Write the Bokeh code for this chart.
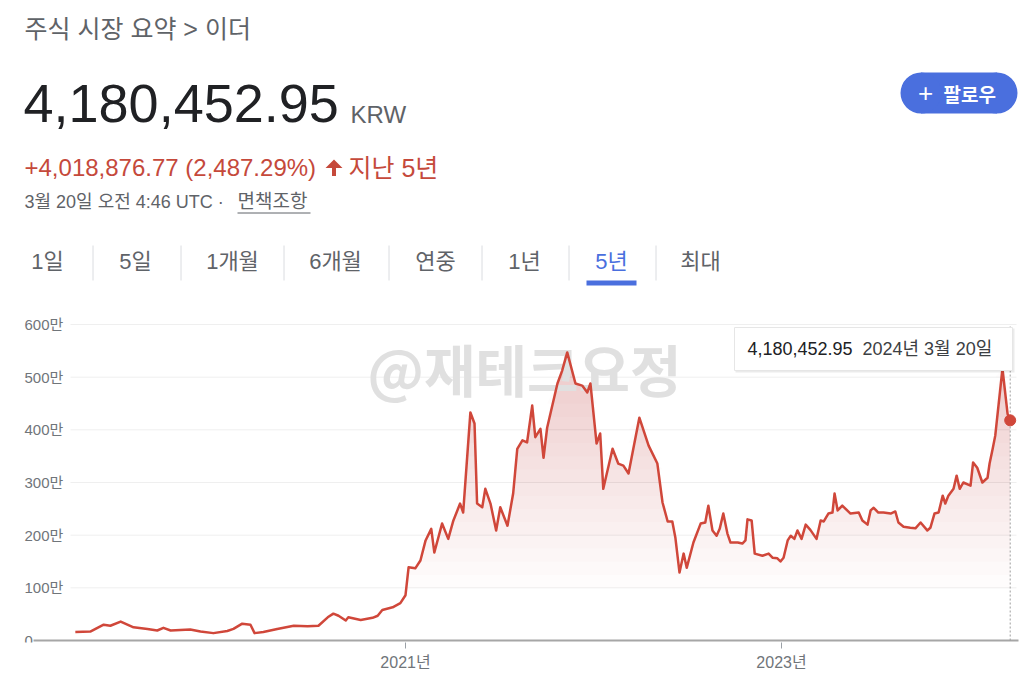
from datetime import datetime, timedelta
import numpy as np
import pandas as pd
from bokeh.plotting import figure
from bokeh.models import Range1d, FixedTicker
from bokeh.layouts import column
from bokeh.core.properties import value
from bokeh.embed import file_html
from bokeh.resources import INLINE

# ---------------- data ----------------
dates = [
    "2019-04-01", "2019-04-30", "2019-05-26", "2019-06-08", "2019-06-28", "2019-07-23",
    "2019-08-19", "2019-09-07", "2019-09-19", "2019-10-03", "2019-11-10", "2019-11-30",
    "2019-12-25", "2020-01-21", "2020-02-02", "2020-02-19", "2020-03-06", "2020-03-14",
    "2020-03-31", "2020-04-27", "2020-05-29", "2020-06-25", "2020-07-16", "2020-08-03",
    "2020-08-14", "2020-08-24", "2020-09-07", "2020-09-12", "2020-10-06", "2020-10-29",
    "2020-11-08", "2020-11-17", "2020-12-07", "2020-12-22", "2021-01-01", "2021-01-07",
    "2021-01-20", "2021-01-30", "2021-02-09", "2021-02-20", "2021-02-26", "2021-03-13",
    "2021-03-25", "2021-04-04", "2021-04-17", "2021-04-23", "2021-05-07", "2021-05-15",
    "2021-05-20", "2021-05-30", "2021-06-05", "2021-06-15", "2021-06-26", "2021-07-04",
    "2021-07-18", "2021-07-29", "2021-08-06", "2021-08-16", "2021-08-25", "2021-09-04",
    "2021-09-10", "2021-09-20", "2021-09-26", "2021-10-03", "2021-10-23", "2021-11-01",
    "2021-11-11", "2021-11-27", "2021-12-10", "2021-12-20", "2021-12-26", "2022-01-07",
    "2022-01-14", "2022-01-20", "2022-02-07", "2022-02-18", "2022-02-28", "2022-03-10",
    "2022-03-31", "2022-04-18", "2022-05-05", "2022-05-15", "2022-05-25", "2022-06-03",
    "2022-06-09", "2022-06-17", "2022-06-25", "2022-07-01", "2022-07-14", "2022-07-28",
    "2022-08-06", "2022-08-12", "2022-08-20", "2022-08-28", "2022-09-03", "2022-09-10",
    "2022-09-18", "2022-09-24", "2022-10-08", "2022-10-17", "2022-10-23", "2022-10-27",
    "2022-11-04", "2022-11-10", "2022-11-25", "2022-12-07", "2022-12-15", "2022-12-24",
    "2022-12-30", "2023-01-05", "2023-01-13", "2023-01-19", "2023-01-26", "2023-02-01",
    "2023-02-09", "2023-02-17", "2023-02-26", "2023-03-10", "2023-03-18", "2023-03-24",
    "2023-04-02", "2023-04-10", "2023-04-14", "2023-04-20", "2023-04-29", "2023-05-15",
    "2023-05-31", "2023-06-07", "2023-06-17", "2023-06-23", "2023-06-29", "2023-07-08",
    "2023-07-18", "2023-08-01", "2023-08-10", "2023-08-16", "2023-08-26", "2023-09-08",
    "2023-09-18", "2023-09-28", "2023-10-11", "2023-10-17", "2023-10-25", "2023-11-02",
    "2023-11-10", "2023-11-15", "2023-11-21", "2023-12-01", "2023-12-07", "2023-12-13",
    "2023-12-20", "2024-01-03", "2024-01-08", "2024-01-16", "2024-01-26", "2024-02-05",
    "2024-02-09", "2024-02-15", "2024-02-20", "2024-03-05", "2024-03-15", "2024-03-20",
]
prices_krw = [
    161576, 170000, 300000, 280000, 360000, 250000,
    220000, 190000, 240000, 190000, 210000, 170000,
    140000, 180000, 220000, 320000, 300000, 140000,
    160000, 220000, 280000, 270000, 280000, 440000,
    510000, 470000, 380000, 440000, 390000, 430000,
    470000, 580000, 630000, 710000, 860000, 1390000,
    1370000, 1520000, 1900000, 2120000, 1670000, 2220000,
    1930000, 2280000, 2600000, 2430000, 4330000, 4120000,
    2600000, 2530000, 2880000, 2600000, 2090000, 2530000,
    2180000, 2790000, 3640000, 3800000, 3760000, 4460000,
    3860000, 4020000, 3470000, 4040000, 4880000, 5120000,
    5470000, 4880000, 4840000, 4710000, 4880000, 3740000,
    3930000, 2880000, 3640000, 3360000, 3320000, 3170000,
    4230000, 3700000, 3360000, 2620000, 2260000, 2260000,
    1950000, 1290000, 1650000, 1380000, 1860000, 2220000,
    2240000, 2560000, 2090000, 1990000, 2120000, 2410000,
    2030000, 1860000, 1860000, 1840000, 1900000, 2300000,
    2280000, 1650000, 1610000, 1650000, 1570000, 1560000,
    1500000, 1570000, 1900000, 1990000, 1930000, 2090000,
    1930000, 2200000, 2100000, 1930000, 2280000, 2260000,
    2410000, 2430000, 2790000, 2470000, 2560000, 2410000,
    2430000, 2280000, 2200000, 2470000, 2520000, 2430000,
    2430000, 2410000, 2450000, 2240000, 2160000, 2140000,
    2130000, 2240000, 2090000, 2140000, 2410000, 2430000,
    2750000, 2600000, 2750000, 2880000, 3130000, 2880000,
    3000000, 2940000, 3380000, 3280000, 3000000, 3090000,
    3360000, 3640000, 3890000, 5160000, 4300000, 4180452.95,
]
y_ticks = [0, 1000000, 2000000, 3000000, 4000000, 5000000, 6000000]
y_tick_labels = ["0", "100만", "200만", "300만", "400만", "500만", "600만"]
x_ticks = ["2021-01-01", "2023-01-01"]
x_tick_labels = ["2021년", "2023년"]

breadcrumb = "주식 시장 요약 > 이더"
price_text = "4,180,452.95"
currency = "KRW"
change_text = "+4,018,876.77 (2,487.29%)"
period_text = "지난 5년"
date_text = "3월 20일 오전 4:46 UTC ·"
disclaimer = "면책조항"
follow_text = "팔로우"
tabs = ["1일", "5일", "1개월", "6개월", "연중", "1년", "5년", "최대"]
active_tab = "5년"
tooltip_value = "4,180,452.95"
tooltip_date = "2024년 3월 20일"
watermark = "@재테크요정"

# ---------------- styles ----------------
FONT_NAME = "Liberation Sans, Noto Sans CJK KR"
FONT = value(FONT_NAME)
KFONT = value("Noto Sans CJK KR")
RED = "#d0473a"
TXT_RED = "#c5493b"
BLUE = "#4a6fde"
DARK = "#202124"
GRAY = "#5f6368"
LGRAY = "#70757a"

W = 1024
HEADER_H = 300
CHART_H = 373
FL, FR = 22, 1020          # shared left/right frame edges (page x)

# ---------------- header (page coordinates) ----------------
HT, HB = 5, 295
hdr = figure(width=W, height=HEADER_H, x_range=Range1d(FL, FR), y_range=Range1d(HB, HT),
             x_axis_location=None, y_axis_location=None, toolbar_location=None,
             output_backend="svg", min_border_left=FL, min_border_right=W - FR,
             min_border_top=HT, min_border_bottom=HEADER_H - HB)
hdr.grid.visible = False
hdr.outline_line_color = None
hdr.background_fill_color = "white"
hdr.border_fill_color = "white"

def htext(x, y, t, size, color, align="left", style="normal", font=FONT):
    hdr.text(x=[x], y=[y], text=[t], text_font=font, text_font_size=size, text_color=color,
             text_align=align, text_baseline="middle", text_font_style=style)

htext(24, 28, breadcrumb, "25px", GRAY)
htext(23, 103, price_text, "54px", DARK)
htext(350, 114, currency, "24px", GRAY)
htext(24, 167, change_text, "24px", TXT_RED)
hdr.patch(x=[325, 333.5, 342, 335.5, 335.5, 331.5, 331.5],
          y=[167.5, 159, 167.5, 167.5, 175.5, 175.5, 167.5], color=TXT_RED, line_color=None)
htext(348, 167, period_text, "25px", TXT_RED)
htext(24, 201, date_text, "18px", GRAY)
htext(237, 201, disclaimer, "19px", GRAY)
hdr.segment(x0=[237], x1=[310], y0=[212.5], y1=[212.5], line_color=GRAY, line_width=1)

# follow button
hdr.quad(left=[920.5], right=[996.5], top=[72], bottom=[113], fill_color=BLUE, line_color=None)
hdr.circle(x=[920.5, 996.5], y=[92.5, 92.5], radius=20.5, fill_color=BLUE, line_color=None)
htext(925, 92, "+", "26px", "white", align="center")
htext(943, 93, follow_text, "19px", "white", style="bold", font=KFONT)

# tabs
tab_x = [47, 135, 232, 335, 435, 524, 611, 700]
sep_x = [92.5, 180.5, 283.5, 388.5, 481.5, 568.5, 655.5]
for tx, t in zip(tab_x, tabs):
    htext(tx, 261, t, "22px", BLUE if t == active_tab else GRAY, align="center")
hdr.segment(x0=sep_x, x1=sep_x, y0=[245] * len(sep_x), y1=[280] * len(sep_x),
            line_color="#dadce0", line_width=1)
ai = tabs.index(active_tab)
hdr.quad(left=[tab_x[ai] - 25], right=[tab_x[ai] + 25], top=[280], bottom=[285],
         fill_color=BLUE, line_color=None)

# ---------------- chart ----------------
FT, FB = 310, 642                        # page y of plot frame
X2021 = 405                              # page x of 2021 tick
PX_PER_DAY = 376 / 730
Y0 = 640                                 # page y of zero line
PX_PER_UNIT = 316 / 6e6

def page_x_to_dt(px):
    return datetime(2021, 1, 1) + timedelta(days=(px - X2021) / PX_PER_DAY)

xr = Range1d(page_x_to_dt(FL), page_x_to_dt(FR))
yr = Range1d(-(FB - Y0) / PX_PER_UNIT, (Y0 - FT) / PX_PER_UNIT)

chart = figure(width=W, height=CHART_H, x_axis_type="datetime", x_range=xr, y_range=yr,
               y_axis_location=None, toolbar_location=None, output_backend="svg",
               min_border_left=FL, min_border_right=W - FR, min_border_top=FT - HEADER_H,
               min_border_bottom=HEADER_H + CHART_H - FB)
chart.grid.visible = False
chart.outline_line_color = None
chart.background_fill_color = "white"
chart.border_fill_color = "white"
chart.extra_x_ranges = {"px": Range1d(FL, FR)}
chart.extra_y_ranges = {"py": Range1d(FB, FT)}

ax = chart.xaxis[0]
tick_ms = [float((np.datetime64(d) - np.datetime64("1970-01-01")) / np.timedelta64(1, "ms")) for d in x_ticks]
ax.ticker = FixedTicker(ticks=tick_ms)
ax.major_label_overrides = {m: l for m, l in zip(tick_ms, x_tick_labels)}
ax.axis_line_color = None
ax.major_tick_line_color = "#9aa0a6"
ax.major_tick_out = 6
ax.major_tick_in = 0
ax.minor_tick_line_color = None
ax.major_label_standoff = 5
ax.major_label_text_font = FONT_NAME
ax.major_label_text_font_size = "16px"
ax.major_label_text_color = LGRAY

dt = pd.to_datetime(dates)
prices = np.array(prices_krw, dtype=float)

# grid lines
gy = y_ticks[1:]
chart.segment(x0=[70] * len(gy), x1=[1016] * len(gy), y0=gy, y1=gy, x_range_name="px",
              line_color="#efefef", line_width=1)

# gradient-like area fill (stronger toward the top)
for t in np.arange(1.0e6, 6.0e6, 0.25e6):
    chart.varea(x=dt, y1=t, y2=np.maximum(prices, t), fill_color=RED, fill_alpha=0.015)

# watermark
chart.text(x=[524], y=[367], text=[watermark], x_range_name="px", y_range_name="py",
           text_font=KFONT, text_font_style="bold", text_font_size="56px",
           text_color="#e0e0e0", text_align="center", text_baseline="middle")

# baseline
chart.segment(x0=[33], x1=[1018], y0=[0], y1=[0], x_range_name="px",
              line_color="#a6a6a6", line_width=2)

# price line
chart.line(x=dt, y=prices, line_color=RED, line_width=2.5, line_join="round")

# hover guide + marker
chart.segment(x0=[dt[-1]], x1=[dt[-1]], y0=[0], y1=[(Y0 - 325) / PX_PER_UNIT],
              line_color="#9e9e9e", line_width=1, line_dash="2 2")
chart.scatter(x=[dt[-1]], y=[prices[-1]], size=11, fill_color=RED, line_color=RED)

# tooltip
chart.quad(left=[735], right=[1014], top=[328], bottom=[372], x_range_name="px", y_range_name="py",
           fill_color="black", fill_alpha=0.08, line_color=None)
chart.quad(left=[734], right=[1012], top=[327], bottom=[370], x_range_name="px", y_range_name="py",
           fill_color="white", line_color="#e6e6e6", line_width=1)
chart.text(x=[747], y=[348], text=[tooltip_value], x_range_name="px", y_range_name="py",
           text_font=FONT, text_font_size="18px", text_color=DARK, text_baseline="middle")
chart.text(x=[862], y=[348], text=[tooltip_date], x_range_name="px", y_range_name="py",
           text_font=FONT, text_font_size="18px", text_color="#3c4043", text_baseline="middle")

# y tick labels
chart.text(x=[24] * len(y_ticks), y=y_ticks, text=y_tick_labels, x_range_name="px",
           text_font=FONT, text_font_size="15px", text_color=LGRAY,
           text_align="left", text_baseline="middle")

layout = column(hdr, chart, spacing=0)
open("out.html", "w").write(file_html(layout, INLINE))
